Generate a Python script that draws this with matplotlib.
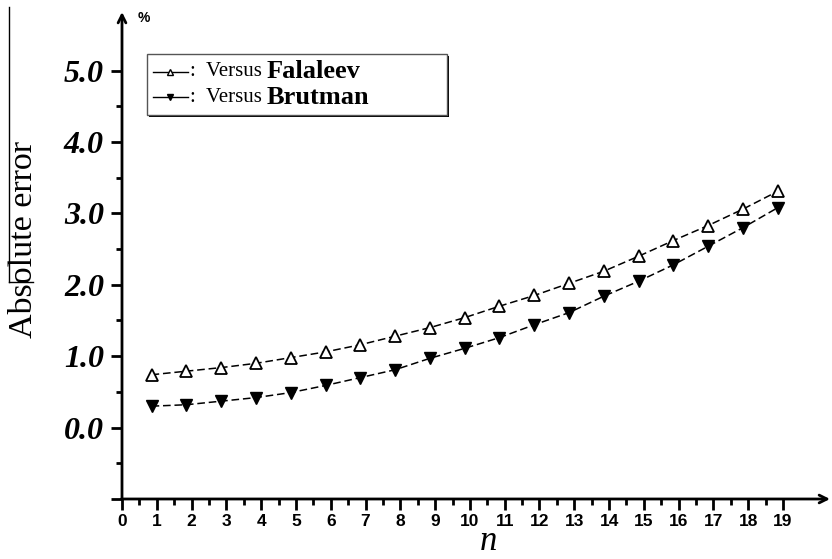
import matplotlib
matplotlib.use("Agg")
import matplotlib.pyplot as plt
from matplotlib.lines import Line2D
from matplotlib.patches import Rectangle

# values
n_vals = [0.85, 1.85, 2.85, 3.85, 4.85, 5.85, 6.85, 7.85, 8.85, 9.85,
          10.85, 11.85, 12.85, 13.85, 14.85, 15.85, 16.85, 17.85, 18.85]
falaleev = [0.74, 0.79, 0.84, 0.90, 0.98, 1.06, 1.16, 1.28, 1.40, 1.54,
            1.70, 1.85, 2.02, 2.19, 2.40, 2.62, 2.83, 3.06, 3.31]
brutman = [0.30, 0.32, 0.37, 0.42, 0.49, 0.59, 0.70, 0.81, 0.97, 1.11,
           1.26, 1.44, 1.61, 1.84, 2.05, 2.28, 2.54, 2.80, 3.08]
x_ticks = list(range(0, 20))
y_ticks = [-1, 0, 1, 2, 3, 4, 5]
y_labels = ["", "0.0", "1.0", "2.0", "3.0", "4.0", "5.0"]

W, H = 832, 559
fig = plt.figure(figsize=(W / 100, H / 100), dpi=100)
ax = fig.add_axes([122 / W, 60 / H, (830 - 122) / W, (499 - 12) / H])
ax.set_xlim(0, 20.35)
ax.set_ylim(-1, 5.82)

dash = (5, 2.5)
ax.plot(n_vals, falaleev, color="black", lw=1.1, dashes=dash,
        marker="^", ms=9, mfc="white", mec="black", mew=1.3)
ax.plot(n_vals, brutman, color="black", lw=1.1, dashes=dash,
        marker="v", ms=9, mfc="black", mec="black")

# axes with arrows
for s in ax.spines.values():
    s.set_visible(False)
ax.annotate("", xy=(1, 0), xytext=(-0.001, 0), xycoords="axes fraction",
            arrowprops=dict(arrowstyle="->", lw=2, color="black",
                            mutation_scale=14, shrinkA=0, shrinkB=0))
ax.annotate("", xy=(0, 1), xytext=(0, -0.001), xycoords="axes fraction",
            arrowprops=dict(arrowstyle="->", lw=2, color="black",
                            mutation_scale=14, shrinkA=0, shrinkB=0))

ax.set_xticks(x_ticks)
ax.set_xticks([v + 0.5 for v in x_ticks[:-1]], minor=True)
ax.set_xticklabels([str(v) for v in x_ticks], fontfamily="Liberation Sans",
                   fontweight="bold", fontsize=12.5)
ax.set_yticks(y_ticks)
ax.set_yticks([v + 0.5 for v in y_ticks[:-1]], minor=True)
ax.set_yticklabels(y_labels, fontfamily="Liberation Serif",
                   fontweight="bold", fontstyle="italic", fontsize=23)
ax.tick_params(axis="both", which="major", length=8, width=2, direction="out")
ax.tick_params(axis="both", which="minor", length=4, width=2, direction="out")
ax.tick_params(axis="x", which="major", pad=3)
ax.tick_params(axis="y", which="major", pad=5)

fig.text(24 / W, 1 - 240 / H, "Absolute error", fontfamily="Liberation Serif",
         fontsize=24.5, rotation=90, ha="center", va="center")
fig.text(488 / W, 1 - 542 / H, "n", fontfamily="Liberation Serif",
         fontstyle="italic", fontsize=25, ha="center", va="center")
fig.text(138 / W, 1 - 18 / H, "%", fontfamily="Liberation Sans",
         fontweight="bold", fontsize=10, ha="left", va="center")

# legend box
bx0, by0, bx1, by1 = 147, 54, 447, 115
fig.patches.append(Rectangle((bx0 / W + 0.002, 1 - by1 / H - 0.004),
                             (bx1 - bx0) / W, (by1 - by0) / H,
                             transform=fig.transFigure, fc="black", ec="none"))
fig.patches.append(Rectangle((bx0 / W, 1 - by1 / H), (bx1 - bx0) / W,
                             (by1 - by0) / H, transform=fig.transFigure,
                             fc="white", ec="#555555", lw=1))
rows = [(72, "^", "white", "Falaleev"), (97, "v", "black", "Brutman")]
for yy, mk, fc, name in rows:
    yf = 1 - yy / H
    fig.lines.append(Line2D([153 / W, 170 / W, 188 / W], [yf, yf, yf],
                            transform=fig.transFigure, color="black", lw=1,
                            marker=mk, markevery=[1], ms=5, mfc=fc,
                            mec="black"))
    fig.text(190 / W, yf, ":  Versus", fontfamily="Liberation Serif",
             fontsize=15, ha="left", va="center")
    fig.text(267 / W, yf, name, fontfamily="Liberation Serif",
             fontweight="bold", fontsize=19, ha="left", va="center")

# thin scan border at far left
fig.lines.append(Line2D([9 / W, 9 / W], [1 - 7 / H, 1 - 282 / H],
                        transform=fig.transFigure, color="black", lw=1))
fig.lines.append(Line2D([9 / W, 33 / W], [1 - 282 / H, 1 - 282 / H],
                        transform=fig.transFigure, color="black", lw=1))

fig.savefig("out.png", dpi=100)
